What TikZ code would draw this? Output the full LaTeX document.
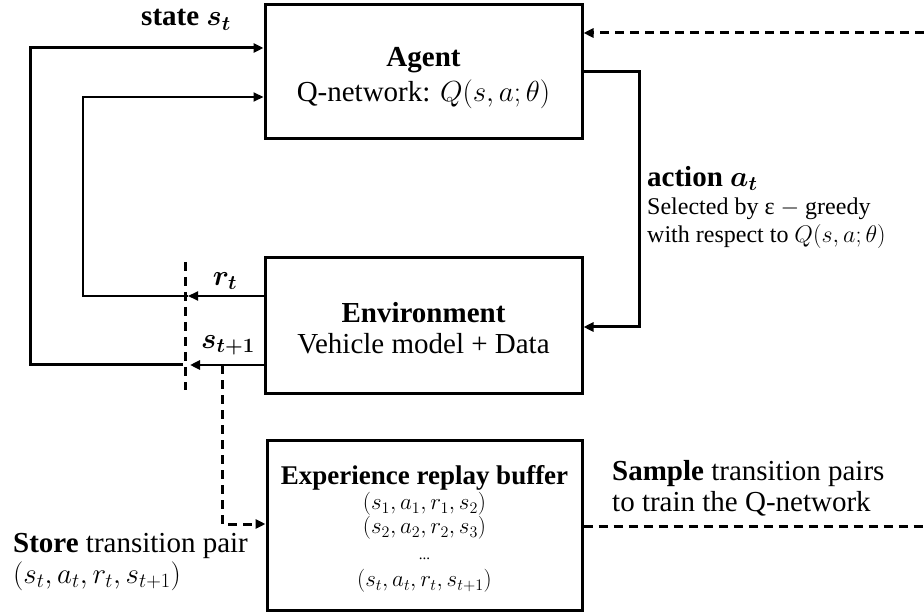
\RequirePackage{fix-cm}
\documentclass[tikz,border=0pt]{standalone}
\usepackage{amsmath}
\usepackage{bm}
\usepackage{fontspec}
\setmainfont{Liberation Serif}
\usetikzlibrary{arrows.meta}
\newcommand{\fsmain}{\fontsize{29}{31}\selectfont}
\newcommand{\fsnote}{\fontsize{24}{28}\selectfont}
\newcommand{\fstitle}{\fontsize{27}{29}\selectfont}
\newcommand{\fsrow}{\fontsize{23}{24}\selectfont}
\begin{document}
\begin{tikzpicture}[x=1pt,y=-1pt,
  box/.style={draw,line width=3pt,rectangle,inner sep=0pt},
  heavy/.style={line width=3pt},
  light/.style={line width=2pt},
  mid/.style={line width=2.5pt},
  dashline/.style={line width=3pt,dash pattern=on 9pt off 6pt},
  tip/.style={-{Triangle[length=10pt,width=9pt]}},
  lbl/.style={inner sep=0pt,font=\fsmain}]
\useasboundingbox (0,0) rectangle (924,612);

% blocks
\node[box,minimum width=317pt,minimum height=134pt] (agent) at (423.5,72) {};
\node[lbl,align=center] (agenttxt) at (423.5,78) {\textbf{Agent}\\[4pt]Q-network: $Q(s,a;\theta)$};

\node[box,minimum width=317pt,minimum height=135pt] (env) at (423.5,325.5) {};
\node[lbl,align=center] (envtxt) at (423.5,328) {\textbf{Environment}\\Vehicle model + Data};

\node[box,minimum width=315pt,minimum height=170pt] (buf) at (424.5,525) {};
\node[inner sep=0pt,align=center,font=\fsrow] (buftxt) at (424.5,529)
  {{\fstitle\textbf{Experience replay buffer}}\\[1pt]
   $(s_1,a_1,r_1,s_2)$\\
   $(s_2,a_2,r_2,s_3)$\\[2pt]
   {\fontsize{15}{16}\selectfont ...}\\[3pt]
   $(s_t,a_t,r_t,s_{t+1})$};

% helper points
\coordinate (stY) at (0,48);
\coordinate (rtY) at (0,97);
\coordinate (actY) at (0,72);
\coordinate (actIn) at (0,327);
\coordinate (rcut) at (188,296);
\coordinate (rturn) at (83,296);
\coordinate (scut) at (190,365);
\coordinate (sleft) at (183,365);
\coordinate (sturn) at (30,365);
\coordinate (cuttop) at (185,262);
\coordinate (cutbot) at (185,390);
\coordinate (tap) at (222,365);
\coordinate (storeturn) at (222,524);
\coordinate (actcorner) at (639,72);
\coordinate (sampleend) at (924,526);
\coordinate (fbstart) at (924,33);

% reward and next state fed back to the agent
\draw[light,tip] (env.west |- rcut) -- (rcut);
\draw[light,tip] (rcut) -- (rturn) |- (agent.west |- rtY);
\draw[mid,tip] (env.west |- scut) -- (scut);
\draw[heavy,tip] (sleft) -- (sturn) |- (agent.west |- stY);
\draw[dashline] (cuttop) -- (cutbot);

% action to the environment
\draw[heavy,tip] (agent.east |- actY) -- (actcorner) |- (env.east |- actIn);

% storing and sampling transitions
\draw[dashline,tip] (tap) -- (storeturn) -- (buf.west |- storeturn);
\draw[dashline] (buf.east |- sampleend) -- (sampleend);
\draw[dashline,tip] (fbstart) -- (agent.east |- fbstart);

% labels
\node[lbl] (statelbl) at (186,20) {\textbf{state} $\bm{s_t}$};
\node[lbl] (rlbl) at (225,281) {$\bm{r_t}$};
\node[lbl] (slbl) at (228,345) {$\bm{s_{t+1}}$};
\node[lbl,anchor=north west] (actlbl) at (647,166) {\textbf{action} $\bm{a_t}$};
\node[inner sep=0pt,anchor=north west,align=left,font=\fsnote] (acttxt) at (647,198)
  {Selected by ε $-$ greedy\\with respect to $Q(s,a;\theta)$};
\node[lbl,anchor=west,align=left] (storelbl) at (13,562)
  {\textbf{Store} transition pair\\$(s_t,a_t,r_t,s_{t+1})$};
\node[lbl,anchor=west,align=left] (samplelbl) at (612,488)
  {\textbf{Sample} transition pairs\\to train the Q-network};
\end{tikzpicture}
\end{document}
